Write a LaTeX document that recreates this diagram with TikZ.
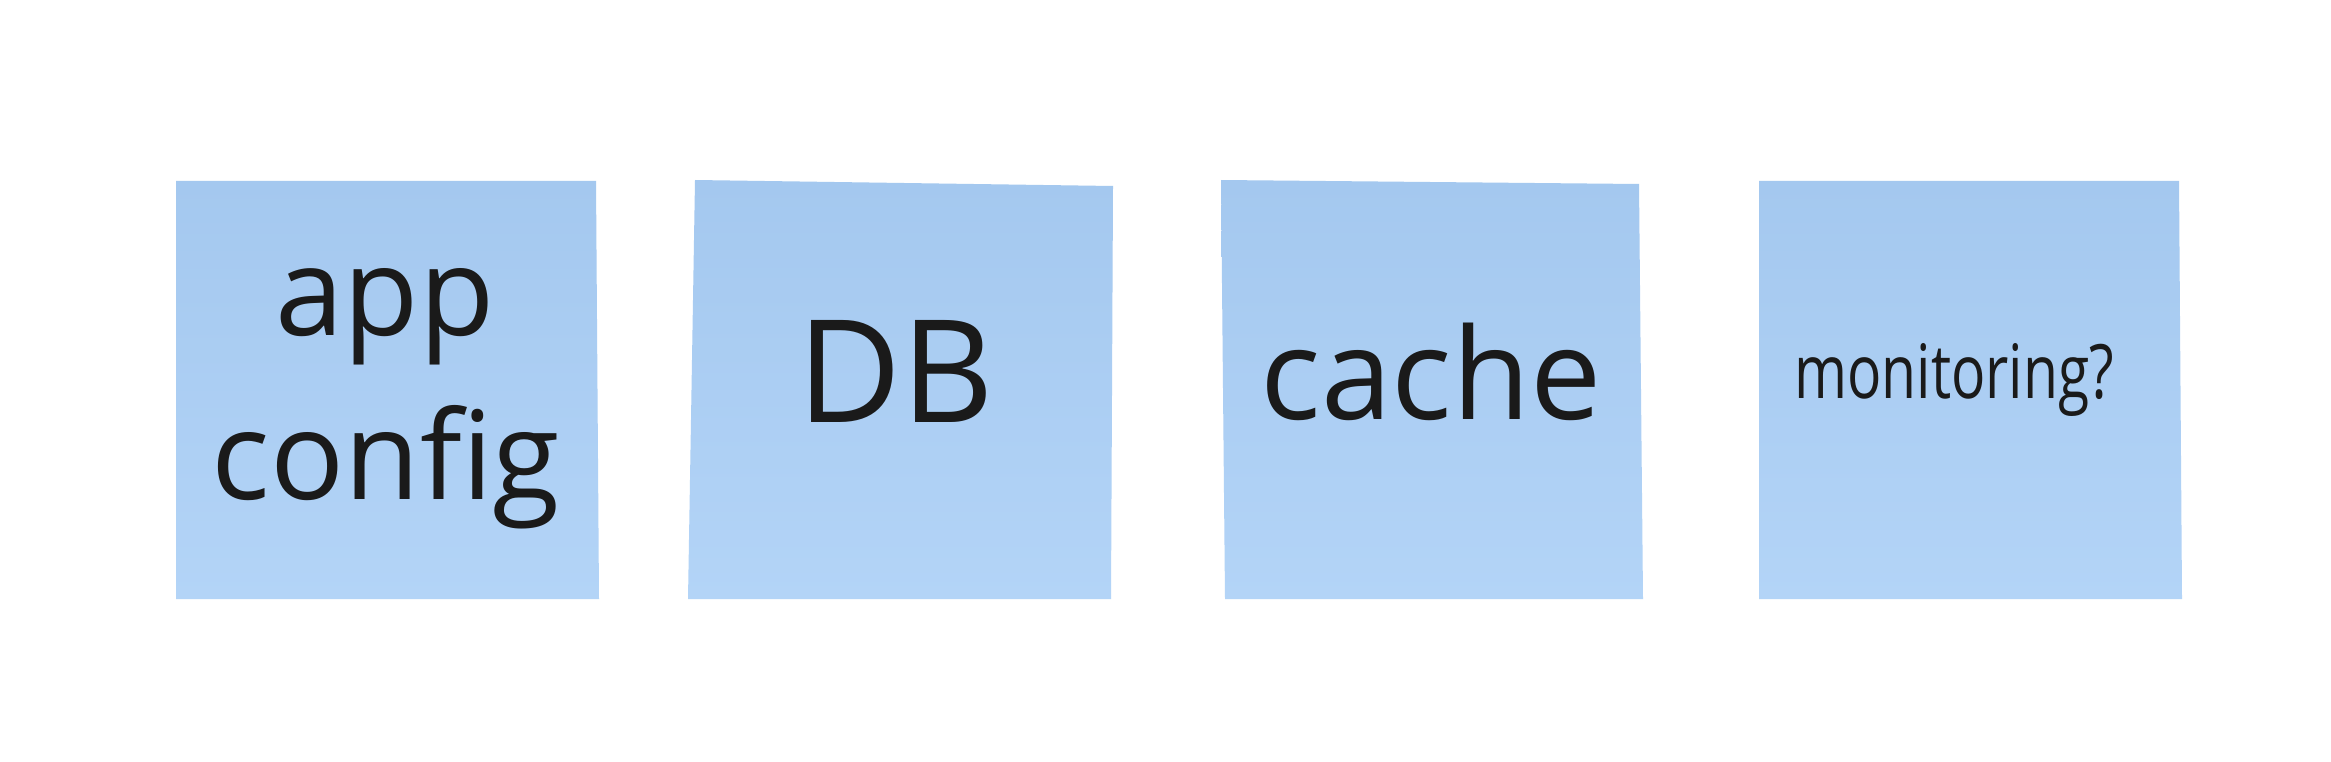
\documentclass[tikz,border=0pt]{standalone}
\usepackage{fontspec}
\setmainfont{Open Sans}
\usepackage{tikz}
\definecolor{notetop}{RGB}{164,200,239}
\definecolor{notebot}{RGB}{179,212,247}
\definecolor{inkblack}{RGB}{26,26,26}

\begin{document}
\begin{tikzpicture}[x=1pt, y=-1pt,
  note/.style={top color=notetop, bottom color=notebot},
  notetext/.style={anchor=base, inner sep=0pt, text=inkblack}]
\useasboundingbox[fill=white] (0,0) rectangle (2331,762);

% App config note
\shade[note] (176,181) -- (596,181) -- (599,599) -- (176,599) -- cycle;
\node[notetext, font=\fontsize{123}{150}\selectfont] (app) at (385,335) {app};
\node[notetext, font=\fontsize{123}{150}\selectfont] (config) at (386,499) {config};

% Database note
\shade[note] (695,180) -- (1113,186) -- (1111,599) -- (688,599) -- cycle;
\node[notetext, font=\fontsize{143}{170}\selectfont] (db) at (896,422) {DB};

% Cache note
\shade[note] (1221,180) -- (1639,184) -- (1643,599) -- (1225,599) -- cycle;
\node[notetext, font=\fontsize{127}{156}\selectfont] (cache) at (1431,419) {cache};

% Monitoring note (open question)
\shade[note] (1759,181) -- (2179,181) -- (2182,599) -- (1759,599) -- cycle;
\node[notetext, font=\fontsize{75}{90}\selectfont] (monitor) at (1954,398) {\scalebox{0.76}[1]{monitoring?}};
\end{tikzpicture}
\end{document}
